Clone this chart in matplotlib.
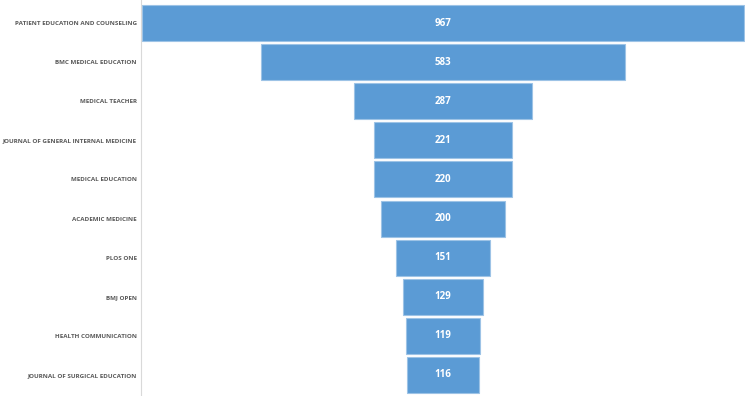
import matplotlib
matplotlib.use("Agg")
import matplotlib.pyplot as plt

# data
journals = [
    "PATIENT EDUCATION AND COUNSELING",
    "BMC MEDICAL EDUCATION",
    "MEDICAL TEACHER",
    "JOURNAL OF GENERAL INTERNAL MEDICINE",
    "MEDICAL EDUCATION",
    "ACADEMIC MEDICINE",
    "PLOS ONE",
    "BMJ OPEN",
    "HEALTH COMMUNICATION",
    "JOURNAL OF SURGICAL EDUCATION",
]
counts = [967, 583, 287, 221, 220, 200, 151, 129, 119, 116]

plt.rcParams['font.family'] = ['Open Sans', 'DejaVu Sans']

fig = plt.figure(figsize=(7.5, 3.96), dpi=100)
ax = fig.add_axes([141/750, 0, 604/750, 1])

y = list(range(len(journals)))
lefts = [-c / 2 for c in counts]
ax.barh(y, counts, left=lefts, height=0.92, color="#5B9BD5",
        edgecolor="#9DC3E6", linewidth=0.8)

for yi, c in zip(y, counts):
    ax.text(0, yi, str(c), ha="center", va="center", color="white",
            fontsize=7, fontweight="bold")

ax.set_xlim(-max(counts) / 2 - 1, max(counts) / 2 + 1)
ax.set_ylim(9.54, -0.59)
ax.set_yticks(y)
ax.set_yticklabels(journals, fontsize=4.5, fontweight="bold", color="#595959")
ax.tick_params(axis="y", length=0, pad=3)
ax.set_xticks([])
for s in ["top", "right", "bottom"]:
    ax.spines[s].set_visible(False)
ax.spines["left"].set_color("#D9D9D9")
ax.spines["left"].set_linewidth(0.8)

fig.savefig("out.png", dpi=100)
